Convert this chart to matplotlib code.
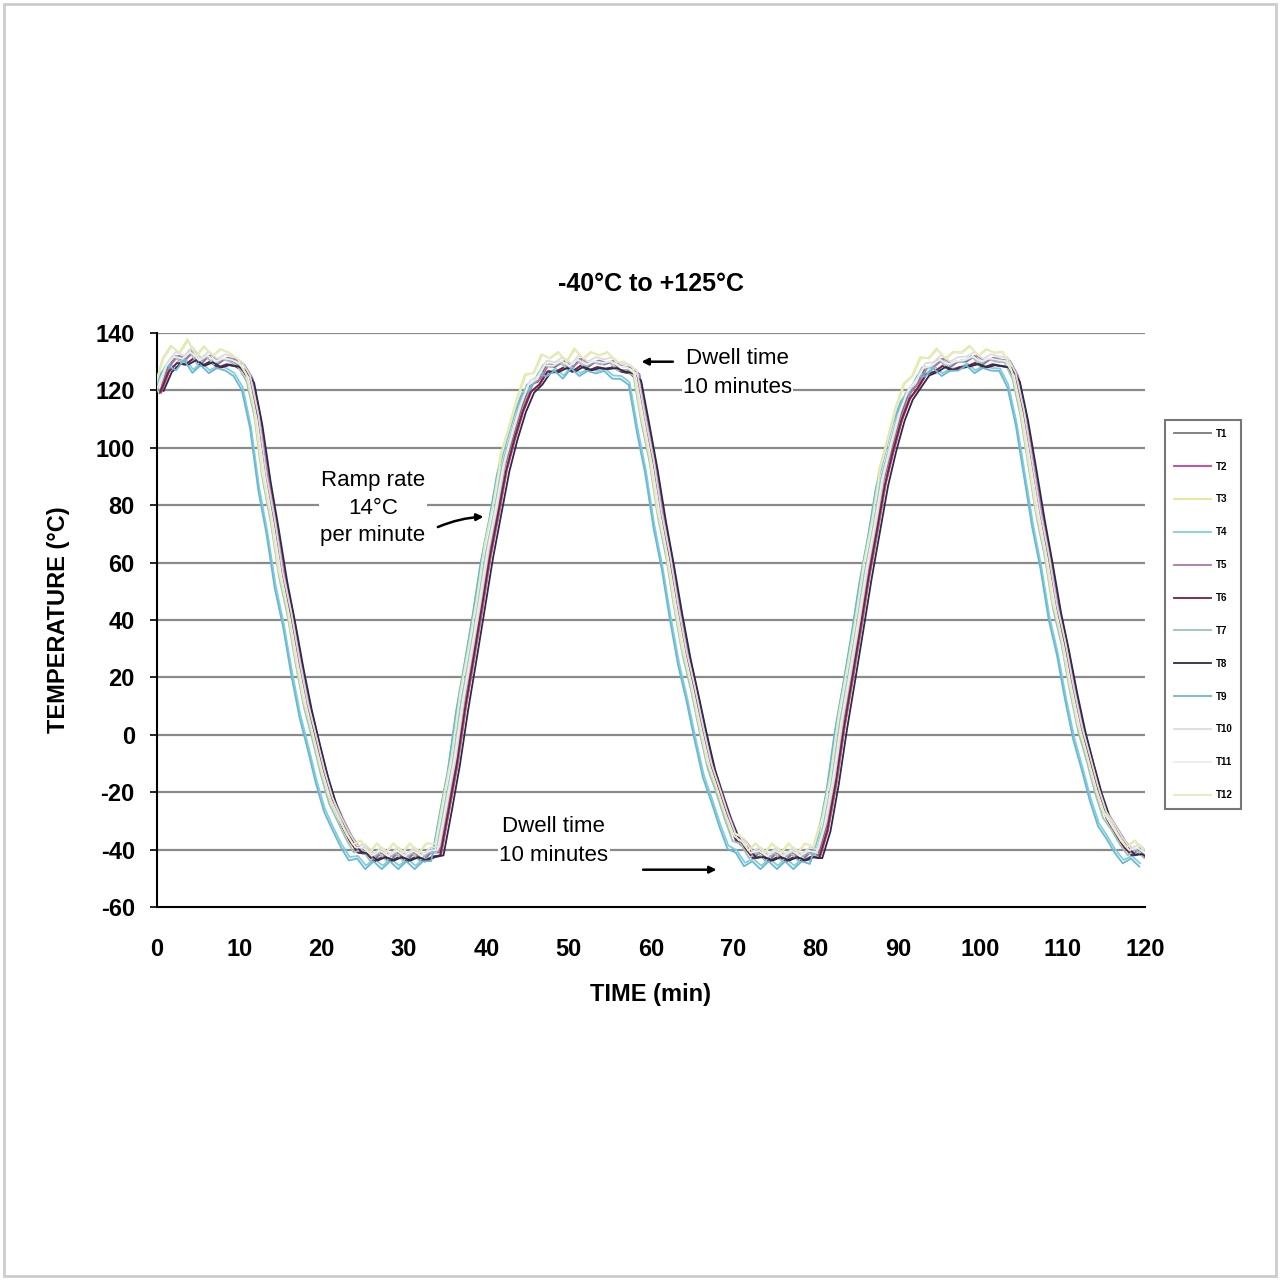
import matplotlib
matplotlib.use('Agg')
import matplotlib.pyplot as plt
import numpy as np
from matplotlib.patches import Rectangle

plt.rcParams['font.family'] = ['Liberation Sans', 'DejaVu Sans']
plt.rcParams['axes.unicode_minus'] = False

# time in minutes, 1 min steps
time_min = list(range(0, 121))

# mean chamber profile (deg C)
temp_base = [
    122, 127, 129, 130, 130, 130, 130, 129, 129, 129,
    128, 124, 108, 90, 72, 55, 39, 24, 10, -3,
    -14, -23, -31, -36, -39, -41, -42, -42, -42, -42,
    -42, -42, -42, -42, -41, -26, -9, 9, 27, 45,
    62, 78, 92, 104, 113, 119, 123, 126, 127, 128,
    128, 128, 128, 128, 128, 128, 128, 127, 124, 110,
    93, 76, 59, 43, 28, 14, 1, -11, -21, -29,
    -35, -39, -41, -42, -42, -42, -42, -42, -42, -42,
    -42, -33, -16, 2, 20, 38, 55, 72, 87, 100,
    110, 117, 122, 125, 127, 128, 128, 128, 129, 129,
    129, 129, 129, 128, 124, 110, 94, 77, 60, 44,
    29, 15, 2, -10, -20, -28, -34, -38, -40, -41,
    -42]

# thermocouple wiggle (deg C)
ripple = [
    -3, 1, 3, 0, 4, -1, 2, 0, 2, 1,
    0, -1, 2, -2, 1, -1, 2, 0, -1, 1,
    0, -1, 1, 0, -2, 1, -2, 1, -2, 1,
    -2, 1, -2, 1, 0, 1, -1, 2, 0, -1,
    1, -1, 2, 0, 1, 3, 0, 3, 1, 2,
    -1, 3, 0, 2, 1, 2, -1, 0, 1, -2,
    1, -1, 2, 0, -1, 1, 0, -1, 1, 0,
    -2, 1, -2, 1, -2, 1, -2, 1, -2, 1,
    0, 1, -1, 2, 0, -1, 1, -1, 2, 0,
    1, 2, 0, 3, 1, 3, 0, 2, 1, 3,
    0, 2, 1, 2, 0, 1, -1, -2, 1, -1,
    2, 0, -1, 1, 0, -1, 1, 0, -2, 1,
    -1]

# per-sensor differences
labels = ['T1', 'T2', 'T3', 'T4', 'T5', 'T6', 'T7', 'T8', 'T9', 'T10', 'T11', 'T12']
lag = [0.3, 0.5, -0.3, -0.6, 0.6, 0.4, -0.1, 0.8, -0.7, 0.3, 0.1, -0.2]
offset = [0, -1, 3, -2, 1, -1, 0, -1, -3, 2, 1, 3]
wiggle = [1.0, 0.6, 1.2, 0.8, 0.7, 0.5, 1.0, 0.4, 0.9, 0.8, 0.6, 1.1]
colors = ['#7a7a7a', '#c040a0', '#e6e690', '#7fd0dc', '#a878a8', '#7a1f3c',
          '#98c4c4', '#2c2c48', '#6cb8d4', '#dcdcdc', '#ececec', '#e4ecc0']

fig = plt.figure(figsize=(12.8, 12.8), dpi=100)
fig.patches.append(Rectangle((0.003, 0.003), 0.994, 0.994, transform=fig.transFigure,
                             fill=False, edgecolor='#cccccc', lw=2))
ax = fig.add_axes([157/1280, 1-907/1280, (1145-157)/1280, (907-333)/1280])

t = np.array(time_min, dtype=float)
base = np.array(temp_base, dtype=float)
rip = np.array(ripple, dtype=float)
for i in range(len(labels)):
    ax.plot(t + lag[i], base + offset[i] + wiggle[i]*rip, color=colors[i], lw=1.3,
            label=labels[i], zorder=3)

ax.set_xlim(0, 120)
ax.set_ylim(-60, 140)
ax.set_xticks(range(0, 121, 10))
ax.set_yticks(range(-60, 141, 20))
for yv in range(-40, 141, 20):
    ax.axhline(yv, color='#8a8a8a', lw=1.6, zorder=1)
ax.spines['top'].set_visible(False)
ax.spines['right'].set_visible(False)
ax.spines['left'].set_linewidth(1.5)
ax.spines['bottom'].set_linewidth(1.5)
ax.tick_params(axis='x', length=0, pad=22)
ax.tick_params(axis='y', length=5, width=1.2, pad=11)
for lab in ax.get_xticklabels() + ax.get_yticklabels():
    lab.set_fontsize(17)
    lab.set_fontweight('bold')

ax.set_title('-40°C to +125°C', fontsize=18, fontweight='bold', pad=30)
ax.set_xlabel('TIME (min)', fontsize=17, fontweight='bold', labelpad=16)
ax.set_ylabel('TEMPERATURE (°C)', fontsize=17, fontweight='bold', labelpad=18)

box = dict(facecolor='white', edgecolor='none', pad=1)
ax.text(70.5, 126, 'Dwell time\n10 minutes', fontsize=16, ha='center', va='center',
        linespacing=1.5, bbox=box, zorder=4)
ax.annotate('', xy=(58.5, 130), xytext=(63, 130),
            arrowprops=dict(arrowstyle='-|>', color='black', lw=1.8), zorder=4)
ax.text(26.2, 79, 'Ramp rate\n14°C\nper minute', fontsize=16, ha='center', va='center',
        linespacing=1.4, bbox=box, zorder=4)
ax.annotate('', xy=(40.0, 76), xytext=(33.8, 72),
            arrowprops=dict(arrowstyle='-|>', color='black', lw=1.8,
                            connectionstyle='arc3,rad=-0.1'), zorder=4)
ax.text(48.2, -37, 'Dwell time\n10 minutes', fontsize=16, ha='center', va='center',
        linespacing=1.5, bbox=box, zorder=4)
ax.annotate('', xy=(68.3, -47), xytext=(58.7, -47),
            arrowprops=dict(arrowstyle='-|>', color='black', lw=1.8), zorder=4)

leg = ax.legend(loc='upper left', bbox_to_anchor=(1165/1280, 1-420/1280),
                bbox_transform=fig.transFigure, fontsize=7, frameon=True,
                fancybox=False, edgecolor='#555555', handlelength=3.8,
                labelspacing=2.35, borderpad=0.9, handletextpad=0.5,
                borderaxespad=0)
leg.get_frame().set_linewidth(1.5)
for txt in leg.get_texts():
    txt.set_fontweight('bold')

fig.savefig('out.png', dpi=100, facecolor='white')
